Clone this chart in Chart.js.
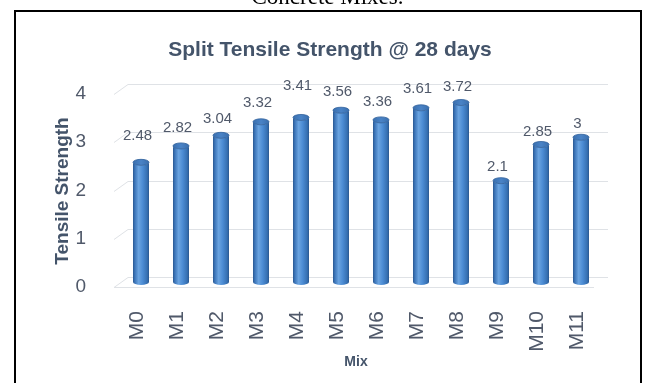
<!DOCTYPE html>
<html>
<head>
<meta charset="utf-8">
<script src="https://cdn.jsdelivr.net/npm/chart.js@4/dist/chart.umd.min.js"></script>
<style>
  html, body { margin: 0; padding: 0; background: #ffffff; }
  #wrap { width: 646px; height: 383px; position: relative; }
</style>
</head>
<body>
<div id="wrap"><canvas id="c" width="646" height="383"></canvas></div>
<script>
// Split tensile strength (MPa) at 28 days for each concrete mix
const mixes = ['M0', 'M1', 'M2', 'M3', 'M4', 'M5', 'M6', 'M7', 'M8', 'M9', 'M10', 'M11'];
const strength = [2.48, 2.82, 3.04, 3.32, 3.41, 3.56, 3.36, 3.61, 3.72, 2.1, 2.85, 3];
const yTicks = [0, 1, 2, 3, 4];

// how far each value label sits above its bar top (px)
const labelRise = [26, 18, 16.5, 18.7, 31.7, 18.8, 18.4, 19, 16, 13.4, 13, 13];

const TEXT = '#44546A';
const TICK = '#50596a';
const GRID = '#dfe2e6';
const DEPTH_X = 7;   // half depth of the 3-D floor, horizontal
const DEPTH_Y = 5;   // half depth of the 3-D floor, vertical

// page caption, frame and chart titles
const framePlugin = {
  id: 'frame',
  beforeDraw(chart) {
    const ctx = chart.ctx;
    ctx.save();
    ctx.fillStyle = '#ffffff';
    ctx.fillRect(0, 0, chart.width, chart.height);
    ctx.fillStyle = '#000000';
    ctx.font = '23px "Liberation Serif", "Times New Roman", serif';
    ctx.textAlign = 'center';
    ctx.textBaseline = 'alphabetic';
    ctx.fillText('Concrete Mixes.', 327.5, 3.5);
    ctx.strokeStyle = '#000000';
    ctx.lineWidth = 2;
    ctx.beginPath();
    ctx.moveTo(15, 400);
    ctx.lineTo(15, 11);
    ctx.lineTo(641, 11);
    ctx.lineTo(641, 400);
    ctx.stroke();
    ctx.restore();
  },
  afterDraw(chart) {
    const ctx = chart.ctx;
    ctx.save();
    ctx.fillStyle = TEXT;
    ctx.textAlign = 'center';
    ctx.textBaseline = 'middle';
    ctx.font = 'bold 21px "Liberation Sans", Arial, sans-serif';
    ctx.fillText('Split Tensile Strength @ 28 days', 330, 50);
    ctx.font = 'bold 14px "Liberation Sans", Arial, sans-serif';
    ctx.fillText('Mix', 356, 362);
    ctx.translate(63, 191);
    ctx.rotate(-Math.PI / 2);
    ctx.font = 'bold 19px "Liberation Sans", Arial, sans-serif';
    ctx.fillText('Tensile Strength', 0, 0);
    ctx.restore();
  }
};

// 3-D back wall gridlines and floor
const wallPlugin = {
  id: 'wall',
  beforeDatasetsDraw(chart) {
    const {ctx, chartArea} = chart;
    const y = chart.scales.y;
    const L = chartArea.left, R = chartArea.right;
    ctx.save();
    ctx.strokeStyle = GRID;
    ctx.lineWidth = 1;
    yTicks.forEach(v => {
      const py = Math.round(y.getPixelForValue(v));
      ctx.beginPath();
      ctx.moveTo(L - DEPTH_X, py + DEPTH_Y + 0.5);
      ctx.lineTo(L + DEPTH_X, py - DEPTH_Y + 0.5);
      ctx.lineTo(R + DEPTH_X, py - DEPTH_Y + 0.5);
      ctx.stroke();
      if (v === 0) {
        ctx.beginPath();
        ctx.moveTo(L - DEPTH_X, py + DEPTH_Y + 0.5);
        ctx.lineTo(R - DEPTH_X, py + DEPTH_Y + 0.5);
        ctx.stroke();
      }
    });
    ctx.restore();
  }
};

function drawCylinder(ctx, x, top, base, w) {
  const r = w / 2, ry = 3;
  const body = ctx.createLinearGradient(x - r, 0, x + r, 0);
  body.addColorStop(0, '#2a5891');
  body.addColorStop(0.12, '#3d76ba');
  body.addColorStop(0.35, '#6ba4e0');
  body.addColorStop(0.6, '#4c8cd4');
  body.addColorStop(0.88, '#3670b2');
  body.addColorStop(1, '#2a5891');
  ctx.beginPath();
  ctx.moveTo(x - r, top);
  ctx.lineTo(x - r, base);
  ctx.ellipse(x, base, r, ry, 0, Math.PI, 0, true);
  ctx.lineTo(x + r, top);
  ctx.ellipse(x, top, r, ry, 0, 0, Math.PI, false);
  ctx.closePath();
  ctx.fillStyle = body;
  ctx.fill();
  const cap = ctx.createLinearGradient(x - r, 0, x + r, 0);
  cap.addColorStop(0, '#3a6fae');
  cap.addColorStop(0.5, '#4a83c6');
  cap.addColorStop(1, '#3a6fae');
  ctx.beginPath();
  ctx.ellipse(x, top, r, ry, 0, 0, Math.PI * 2);
  ctx.fillStyle = cap;
  ctx.fill();
  ctx.strokeStyle = '#2f5f9a';
  ctx.lineWidth = 0.8;
  ctx.stroke();
}

// cylinders and value labels, placed from each bar element
const cylinderPlugin = {
  id: 'cylinders',
  afterDatasetsDraw(chart) {
    const ctx = chart.ctx;
    const meta = chart.getDatasetMeta(0);
    ctx.save();
    meta.data.forEach((bar, i) => {
      const {x, y, base, width} = bar.getProps(['x', 'y', 'base', 'width'], true);
      drawCylinder(ctx, x, y, base, width);
    });
    ctx.fillStyle = TICK;
    ctx.font = '15px "Liberation Sans", Arial, sans-serif';
    ctx.textAlign = 'center';
    ctx.textBaseline = 'middle';
    meta.data.forEach((bar, i) => {
      const {x, y} = bar.getProps(['x', 'y'], true);
      ctx.fillText(String(strength[i]), x - 3.5, y - labelRise[i]);
    });
    ctx.restore();
  }
};

new Chart(document.getElementById('c'), {
  type: 'bar',
  data: {
    labels: mixes,
    datasets: [{
      label: 'Tensile Strength',
      data: strength,
      backgroundColor: 'rgba(0,0,0,0)',
      borderWidth: 0,
      barThickness: 16
    }]
  },
  options: {
    responsive: false,
    animation: false,
    devicePixelRatio: 1,
    layout: { padding: { top: 89, left: 0, right: 45, bottom: 0 } },
    plugins: {
      legend: { display: false },
      tooltip: { enabled: false },
      title: { display: false }
    },
    scales: {
      x: {
        grid: { display: false },
        border: { display: false },
        ticks: {
          autoSkip: false,
          minRotation: 90,
          maxRotation: 90,
          padding: 21,
          labelOffset: -4,
          color: TICK,
          font: { family: '"Liberation Sans", Arial, sans-serif', size: 21 }
        },
        afterFit(scale) { scale.height = 101; }
      },
      y: {
        min: 0,
        max: 4,
        grid: { display: false },
        border: { display: false },
        ticks: {
          stepSize: 1,
          padding: 27,
          labelOffset: 5,
          color: TICK,
          font: { family: '"Liberation Sans", Arial, sans-serif', size: 19 }
        },
        afterFit(scale) { scale.width = 121; }
      }
    }
  },
  plugins: [framePlugin, wallPlugin, cylinderPlugin]
});
</script>
</body>
</html>
